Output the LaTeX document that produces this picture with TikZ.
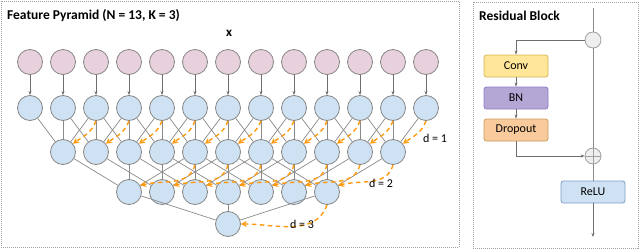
\documentclass[tikz,border=0pt]{standalone}
\usepackage{fontspec}
\setmainfont{Carlito}
\usetikzlibrary{arrows.meta}
\definecolor{circgray}{HTML}{858585}
\definecolor{pinkfill}{HTML}{E8D1DD}
\definecolor{bluefill}{HTML}{CFE2F3}
\definecolor{linegray}{HTML}{8A8A8A}
\definecolor{arrgray}{HTML}{6E6E6E}
\definecolor{dashorange}{HTML}{FF9A0F}
\definecolor{boxgray}{HTML}{A0A0A0}
\definecolor{convfill}{HTML}{FFE699}
\definecolor{convdraw}{HTML}{D6B656}
\definecolor{bnfill}{HTML}{B4A7D6}
\definecolor{bndraw}{HTML}{8E7CC3}
\definecolor{dropfill}{HTML}{F9CB9C}
\definecolor{dropdraw}{HTML}{C8995C}
\definecolor{reludraw}{HTML}{7D9CC4}
\definecolor{nodegray}{HTML}{EEEEEE}
\begin{document}
\begin{tikzpicture}[x=1pt,y=1pt,
  pnode/.style={circle,draw=circgray,fill=pinkfill,minimum size=25pt,inner sep=0pt,line width=0.8pt},
  bnode/.style={circle,draw=circgray,fill=bluefill,minimum size=25pt,inner sep=0pt,line width=0.8pt},
  conn/.style={draw=linegray,line width=0.7pt},
  garr/.style={draw=arrgray,line width=0.7pt,-{Stealth[length=4pt,width=3pt]}},
  oarr/.style={draw=dashorange,line width=1.4pt,dash pattern=on 4.5pt off 3.5pt,-{Stealth[length=6pt,width=6pt]}},
  frame/.style={draw=boxgray,line width=0.8pt,dash pattern=on 1pt off 1pt},
  ttl/.style={font=\fontsize{13.5}{16}\selectfont\bfseries,anchor=west,inner sep=0pt},
  dlab/.style={font=\fontsize{12}{14}\selectfont,inner sep=0pt},
  blk/.style={rounded corners=2.5pt,minimum width=64pt,minimum height=22pt,inner sep=0pt,line width=0.8pt,font=\fontsize{12}{14}\selectfont},
  rnode/.style={circle,draw=boxgray,fill=nodegray,minimum size=16pt,inner sep=0pt,line width=0.8pt}
]
\useasboundingbox (0,0) rectangle (640,-249);
% frames
\draw[frame] (1,-1) rectangle (459,-247);
\draw[frame] (473,-2) rectangle (638,-248);
\node[ttl] (title1) at (7,-16) {Feature Pyramid (N = 13, K = 3)};
\node[ttl] (title2) at (479,-16) {Residual Block};
\node[font=\fontsize{13}{15}\selectfont\bfseries,inner sep=0pt] (xlab) at (229,-33) {x};

% nodes
\foreach \i in {0,...,12} {
  \node[pnode] (t\i) at ({30+33*\i},-62) {};
  \node[bnode] (a\i) at ({30+33*\i},-108) {};
}
\foreach \j in {1,...,11} {
  \node[bnode] (b\j) at ({30+33*\j},-152) {};
}
\foreach \j in {3,...,9} {
  \node[bnode] (c\j) at ({30+33*\j},-192) {};
}
\node[bnode] (e6) at (228,-224) {};

% connectors
\foreach \i in {0,...,12} {
  \draw[garr] (t\i) -- (a\i);
}
\foreach \j in {1,...,11} {
  \pgfmathtruncatemacro\l{\j-1}
  \pgfmathtruncatemacro\r{\j+1}
  \draw[conn] (a\l) -- (b\j);
  \draw[conn] (a\j) -- (b\j);
  \draw[conn] (a\r) -- (b\j);
}
\foreach \j in {3,...,9} {
  \pgfmathtruncatemacro\l{\j-2}
  \pgfmathtruncatemacro\r{\j+2}
  \draw[conn] (b\l) -- (c\j);
  \draw[conn] (b\j) -- (c\j);
  \draw[conn] (b\r) -- (c\j);
}
\draw[conn] (c3) -- (e6);
\draw[conn] (c6) -- (e6);
\draw[conn] (c9) -- (e6);

% dilation arrows
\foreach \j in {1,...,11} {
  \pgfmathtruncatemacro\r{\j+1}
  \draw[oarr] (a\r.south) to[out=-110,in=35] (b\j.40);
}
\foreach \j in {3,...,9} {
  \pgfmathtruncatemacro\r{\j+2}
  \draw[oarr] (b\r.south) to[out=-105,in=15] (c\j.30);
}
\draw[oarr] (c9.south) to[out=-110,in=0] (e6.east);
\node[dlab] (d1) at (435,-138) {d = 1};
\node[dlab] (d2) at (381,-183) {d = 2};
\node[dlab] (d3) at (302,-224) {d = 3};

% residual block
\node[rnode] (r1) at (593,-40) {};
\node[rnode] (r2) at (593,-156) {};
\draw[draw=boxgray,line width=0.8pt] (r2.north) -- (r2.south) (r2.west) -- (r2.east);
\node[blk,draw=convdraw,fill=convfill] (conv) at (516,-66) {Conv};
\node[blk,draw=bndraw,fill=bnfill] (bn) at (516,-98) {BN};
\node[blk,draw=dropdraw,fill=dropfill] (drop) at (516,-130) {Dropout};
\node[blk,draw=reludraw,fill=bluefill] (relu) at (593,-192) {ReLU};
\coordinate (rtop) at (593,-8);
\coordinate (rbot) at (593,-237);
\draw[conn] (rtop) -- (r1);
\draw[conn] (r1) -- (r2);
\draw[garr] (r1) -| (conv);
\draw[garr] (conv) -- (bn);
\draw[garr] (bn) -- (drop);
\draw[garr] (drop) |- (r2);
\draw[conn] (r2) -- (relu);
\draw[garr] (relu) -- (rbot);
\end{tikzpicture}
\end{document}
